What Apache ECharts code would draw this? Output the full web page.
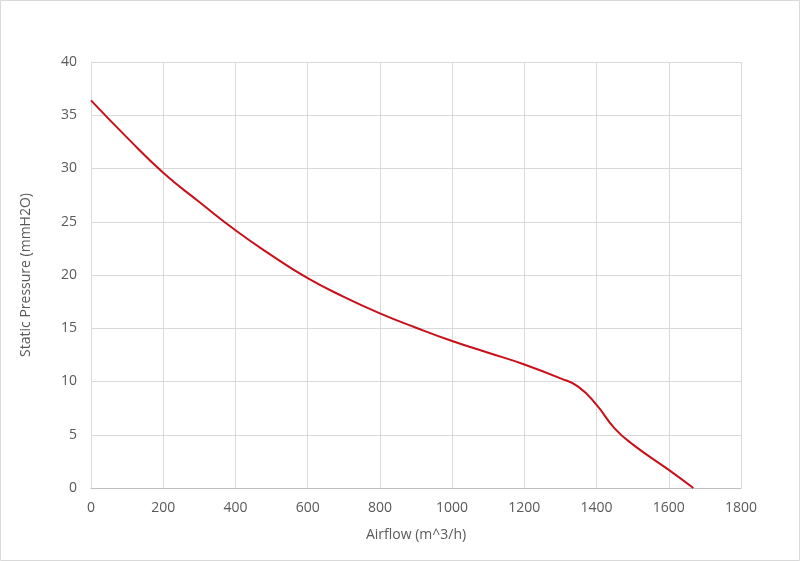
<!DOCTYPE html>
<html><head><meta charset="utf-8">
<script src="https://cdn.jsdelivr.net/npm/echarts@6/dist/echarts.min.js"></script>
<style>html,body{margin:0;padding:0;background:#fff}#c{width:800px;height:561px}</style>
</head><body><div id="c"></div>
<script>
const airflow = [0,100,200,300,400,500,600,700,800,900,1000,1100,1200,1300,1350,1400,1450,1500,1600,1668];
const pressure = [36.4,32.9,29.6,26.85,24.2,21.85,19.7,17.95,16.4,15.05,13.8,12.7,11.6,10.3,9.5,7.8,5.6,4.1,1.7,0];
const xName = 'Airflow (m^3/h)';
const yName = 'Static Pressure (mmH2O)';
const chart = echarts.init(document.getElementById('c'));
const font = '"Open Sans", sans-serif';
chart.setOption({
  animation:false,
  graphic:[{type:'rect',shape:{x:0.5,y:0.5,width:799,height:560},style:{fill:'none',stroke:'#d9d9d9',lineWidth:1}}],
  grid:{left:91,right:59,top:62,bottom:73,containLabel:false},
  xAxis:{type:'value',min:0,max:1800,interval:200,name:xName,nameLocation:'middle',nameGap:40,
    nameTextStyle:{color:'#595959',fontSize:14,fontFamily:font},
    axisLine:{lineStyle:{color:'#bfbfbf'}},axisTick:{show:false},
    axisLabel:{color:'#595959',fontSize:14,fontFamily:font,margin:13,formatter:v=>String(v)},
    splitLine:{lineStyle:{color:'#d9d9d9'}}},
  yAxis:{type:'value',min:0,max:40,interval:5,name:yName,nameLocation:'middle',nameGap:58,
    nameTextStyle:{color:'#595959',fontSize:14,fontFamily:font},
    axisLine:{show:true,lineStyle:{color:'#d9d9d9'}},axisTick:{show:false},
    axisLabel:{color:'#595959',fontSize:14,fontFamily:font,margin:14,formatter:v=>String(v)},
    splitLine:{lineStyle:{color:'#d9d9d9'}}},
  series:[{type:'line',data:airflow.map((x,i)=>[x,pressure[i]]),smooth:0.5,showSymbol:false,
    lineStyle:{color:'#c8101a',width:2}}]
});
</script></body></html>
